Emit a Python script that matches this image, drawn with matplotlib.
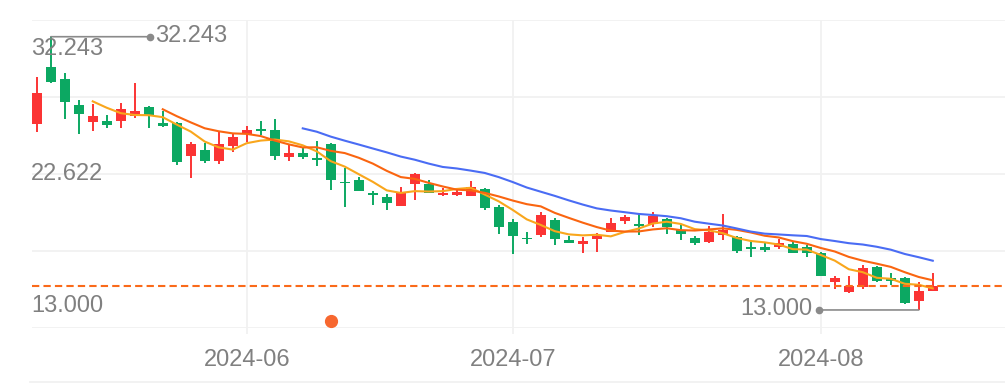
import matplotlib
matplotlib.use('Agg')
import numpy as np
import pandas as pd
import matplotlib.pyplot as plt
from matplotlib.ticker import LinearLocator, FixedLocator
from matplotlib.transforms import offset_copy
from matplotlib.lines import Line2D

# daily candles, 2024-05-13 .. 2024-08-14 (category axis)
opens = [26.10, 30.11, 29.27, 27.44, 26.24, 26.31, 26.31, 26.66, 27.30, 26.17,
         26.17, 23.85, 24.27, 23.49, 24.55, 25.39, 25.75, 25.68, 23.77, 24.06,
         23.70, 24.69, 22.01, 22.15, 21.24, 20.96, 20.32, 21.87, 21.87, 21.10,
         21.10, 21.03, 21.52, 20.25, 19.20, 18.07, 18.28, 19.34, 17.93, 17.65,
         18.00, 18.49, 19.27, 19.06, 19.06, 19.41, 18.63, 18.07, 17.79, 18.28,
         18.14, 17.44, 17.44, 17.44, 17.65, 17.44, 17.01, 14.97, 14.27, 14.62,
         16.03, 15.25, 15.25, 13.63, 14.34]
closes = [28.28, 29.06, 27.65, 26.80, 26.66, 26.03, 27.15, 27.01, 26.73, 25.96,
          23.42, 24.69, 23.49, 24.69, 25.18, 25.68, 25.61, 23.85, 24.06, 23.77,
          23.56, 22.15, 21.94, 21.38, 21.10, 20.54, 21.24, 22.58, 21.24, 21.24,
          21.31, 21.66, 20.18, 18.85, 18.21, 18.00, 19.69, 18.00, 17.72, 17.86,
          18.21, 19.13, 19.55, 18.92, 19.62, 18.85, 18.35, 17.72, 18.49, 18.63,
          17.15, 17.30, 17.23, 17.72, 17.01, 17.01, 15.39, 15.25, 14.69, 15.96,
          15.04, 15.04, 13.49, 14.34, 14.69]
highs = [29.41, 32.243, 29.69, 27.79, 27.51, 26.73, 27.58, 28.99, 27.37, 27.01,
         26.24, 24.83, 24.76, 25.61, 25.46, 25.96, 26.31, 26.45, 24.69, 24.48,
         24.90, 24.76, 23.00, 22.37, 21.38, 21.17, 21.66, 22.65, 22.15, 21.59,
         21.45, 22.08, 21.59, 20.39, 19.41, 18.49, 19.90, 19.48, 18.21, 18.14,
         18.42, 19.48, 19.69, 19.83, 19.90, 19.48, 18.99, 18.21, 18.92, 19.76,
         18.21, 17.79, 17.72, 18.00, 17.79, 17.58, 17.08, 15.39, 15.39, 16.17,
         16.10, 15.61, 15.32, 14.97, 15.61]
lows = [25.54, 29.00, 26.45, 25.39, 25.61, 25.82, 25.82, 26.52, 25.82, 25.89,
        23.21, 22.30, 23.35, 23.28, 24.13, 24.83, 25.32, 23.56, 23.49, 23.63,
        23.14, 21.45, 20.25, 21.38, 20.39, 20.04, 20.32, 20.75, 21.24, 21.03,
        21.03, 21.03, 20.04, 18.35, 16.94, 17.65, 18.14, 17.58, 17.72, 17.01,
        17.08, 18.49, 19.06, 18.28, 18.85, 18.35, 17.93, 17.58, 17.72, 17.93,
        17.01, 16.73, 17.08, 17.30, 17.01, 16.73, 15.39, 14.48, 14.20, 14.48,
        14.97, 14.76, 13.42, 13.00, 14.34]

month_pos = [15, 34, 56]
month_labels = ['2024-06', '2024-07', '2024-08']

signal_pos = [21]
signal_val = [12.23]

ma_windows = [5, 10, 20]
ma_colors = ['#f9a61c', '#fa6510', '#4a6cf4']

UP = '#fb3434'
DOWN = '#0ca862'
GRID = '#f1f1f1'
TXT = '#808080'
FONT = 'Liberation Sans'
FS = 17


def plotKLine():
    fig = plt.figure(figsize=(10.05, 3.87), dpi=100)
    ax = fig.add_axes([32 / 1005, 59 / 387, 973 / 1005, 308 / 387])

    o = np.array(opens)
    c = np.array(closes)
    h = np.array(highs)
    l = np.array(lows)
    x = np.arange(len(o))
    cols = np.where(c >= o, UP, DOWN)

    ax.vlines(x, l, h, colors=cols, lw=1.4, zorder=3)
    body = np.maximum(np.abs(c - o), 0.1)
    ax.bar(x, body, bottom=np.minimum(o, c), width=0.7, color=cols, zorder=3)

    s = pd.Series(closes)
    for w, col in zip(ma_windows, ma_colors):
        ax.plot(x, s.rolling(w).mean(), color=col, lw=1.5, zorder=4)

    ax.axhline(closes[-1], color='#fa6a1a', lw=1.5, ls=(0, (3.5, 2)), zorder=5)
    ax.plot(signal_pos, signal_val, 'o', color='#f7672f', ms=8.5, zorder=5)

    ax.set_xlim(-0.34, 69.16)
    ax.set_ylim(11.73, 33.42)
    for sp in ax.spines.values():
        sp.set_visible(False)
    ax.yaxis.set_major_locator(LinearLocator(5))
    ax.xaxis.set_major_locator(FixedLocator(month_pos))
    ax.grid(True, color=GRID, lw=1.3, zorder=0)
    ax.tick_params(axis='y', length=0, labelleft=False)
    ax.tick_params(axis='x', length=4.3, width=1.3, color=GRID, labelbottom=False)

    # month labels
    for p, lab in zip(month_pos, month_labels):
        tr = offset_copy(ax.get_xaxis_transform(), fig=fig, x=0, y=-32, units='dots')
        ax.text(p, 0, lab, transform=tr, ha='center', va='center',
                color=TXT, fontsize=FS, family=FONT)

    # y labels at max / mid / min
    vmax = max(highs)
    vmin = min(lows)
    vmid = (vmax + vmin) / 2
    for v, dy in [(vmax, -12), (vmid, -1), (vmin, 4)]:
        tr = offset_copy(ax.get_yaxis_transform(), fig=fig, x=-1, y=dy, units='dots')
        ax.text(0, v, '%.3f' % v, transform=tr, ha='left', va='center',
                color=TXT, fontsize=FS, family=FONT, zorder=6)

    # max / min mark points
    imax = highs.index(vmax)
    imin = lows.index(vmin)
    for i, v, dx, ha in [(imax, vmax, 99, 'left'), (imin, vmin, -100, 'right')]:
        ax.annotate('', xy=(i, v), xytext=(dx, 0), textcoords='offset pixels',
                    arrowprops=dict(arrowstyle='-', color='#8a8a8a', lw=1.2,
                                    shrinkA=0, shrinkB=0), zorder=6)
        tr = offset_copy(ax.transData, fig=fig, x=dx, y=0, units='dots')
        ax.plot([i], [v], 'o', color='#8a8a8a', ms=4.5, transform=tr, zorder=6)
        tr = offset_copy(ax.transData, fig=fig, x=dx + (5 if dx > 0 else -6), y=1, units='dots')
        ax.text(i, v, '%.3f' % v, transform=tr, ha=ha, va='center',
                color=TXT, fontsize=FS, family=FONT, zorder=6)

    fig.add_artist(Line2D([30 / 1005, 1], [5 / 387, 5 / 387], color=GRID, lw=1.3,
                          transform=fig.transFigure))

    fig.savefig('out.png', dpi=100)


def main():
    plotKLine()


if __name__ == "__main__":
    main()
